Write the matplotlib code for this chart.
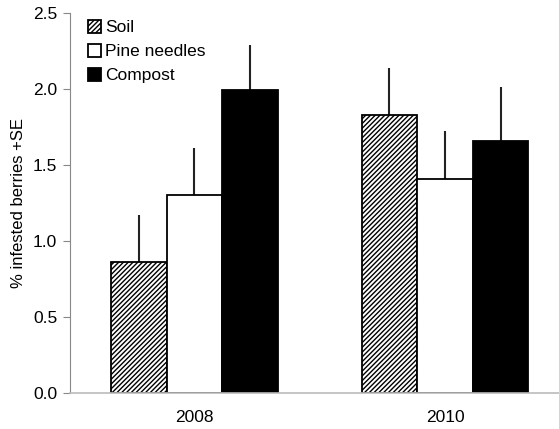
import numpy as np
import matplotlib.pyplot as plt

plt.rcParams['font.family'] = ['Liberation Sans', 'DejaVu Sans']
plt.rcParams['hatch.linewidth'] = 1.0

years = ['2008', '2010']
treatments = ['Soil', 'Pine needles', 'Compost']
means = {
    'Soil': [0.86, 1.83],
    'Pine needles': [1.30, 1.41],
    'Compost': [1.99, 1.66],
}
se = {
    'Soil': [0.31, 0.31],
    'Pine needles': [0.31, 0.31],
    'Compost': [0.30, 0.35],
}

styles = {
    'Soil': dict(color='white', hatch='///////'),
    'Pine needles': dict(color='white'),
    'Compost': dict(color='black'),
}

fig = plt.figure(figsize=(5.59, 4.29), dpi=100)
ax = fig.add_axes([0.125, 0.084, 0.875, 0.886])

x = np.arange(len(years))
w = 0.222
for i, t in enumerate(treatments):
    pos = x + (i - 1) * w
    ax.bar(pos, means[t], width=w, edgecolor='black', linewidth=1.3,
           label=t, zorder=2, **styles[t])
    # upper half of the SE bar only
    ax.errorbar(pos, means[t], yerr=[np.zeros(len(years)), se[t]],
                fmt='none', ecolor='#222222', elinewidth=1.5, capsize=0, zorder=1)

ax.set_xlim(-0.497, 1.455)
ax.set_ylim(0, 2.5)
ax.set_yticks(np.arange(0, 2.51, 0.5))
ax.set_yticklabels([f'{v:.1f}' for v in np.arange(0, 2.51, 0.5)])
ax.set_xticks(x)
ax.set_xticklabels(years)
ax.tick_params(axis='x', length=0, pad=12, labelsize=12.5)
ax.tick_params(axis='y', length=5, width=0.8, color='#888888', labelsize=12.5, pad=4)
ax.set_ylabel('% infested berries +SE', fontsize=12, labelpad=5)

for s in ['top', 'right']:
    ax.spines[s].set_visible(False)
ax.spines['left'].set_color('#888888')
ax.spines['bottom'].set_color('#bbbbbb')
ax.spines['bottom'].set_linewidth(1.2)

ax.legend(loc='upper left', bbox_to_anchor=(0.022, 1.0), frameon=False,
          fontsize=12.5, handlelength=0.75, handleheight=0.75,
          handletextpad=0.25, labelspacing=0.5, borderaxespad=0)

fig.savefig('out.png', dpi=100)
